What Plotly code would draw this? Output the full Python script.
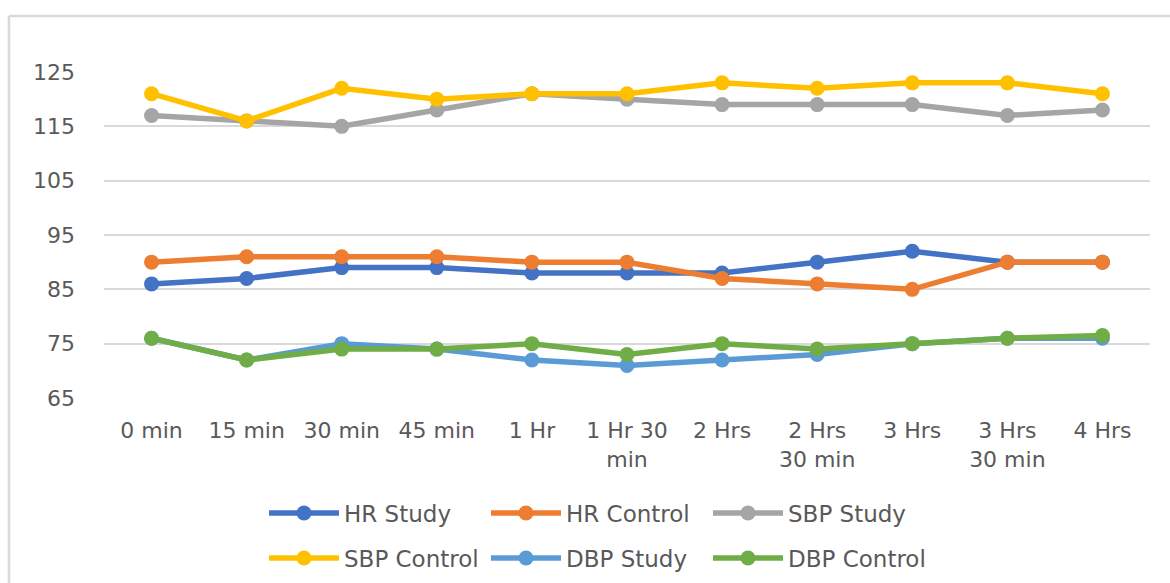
import plotly.graph_objects as go

# Time points (x-axis categories)
time_points = ["0 min", "15 min", "30 min", "45 min", "1 Hr", "1 Hr 30<br>min",
               "2 Hrs", "2 Hrs<br>30 min", "3 Hrs", "3 Hrs<br>30 min", "4 Hrs"]

# Series values
hr_study = [86, 87, 89, 89, 88, 88, 88, 90, 92, 90, 90]
hr_control = [90, 91, 91, 91, 90, 90, 87, 86, 85, 90, 90]
sbp_study = [117, 116, 115, 118, 121, 120, 119, 119, 119, 117, 118]
sbp_control = [121, 116, 122, 120, 121, 121, 123, 122, 123, 123, 121]
dbp_study = [76, 72, 75, 74, 72, 71, 72, 73, 75, 76, 76]
dbp_control = [76, 72, 74, 74, 75, 73, 75, 74, 75, 76, 76.5]

y_ticks = [65, 75, 85, 95, 105, 115, 125]

W, H = 1170, 583
ML, MR, MT, MB = 104, 20, 72, 185
PW, PH = W - ML - MR, H - MT - MB

font_family = "DejaVu Sans, sans-serif"
text_color = "#595959"

series = [
    ("HR Study", hr_study, "#4472C4", "legend"),
    ("HR Control", hr_control, "#ED7D31", "legend"),
    ("SBP Study", sbp_study, "#A5A5A5", "legend"),
    ("SBP Control", sbp_control, "#FFC000", "legend2"),
    ("DBP Study", dbp_study, "#5B9BD5", "legend2"),
    ("DBP Control", dbp_control, "#70AD47", "legend2"),
]

fig = go.Figure()
for name, vals, color, leg in series:
    fig.add_trace(go.Scatter(
        x=time_points, y=vals, name=name, mode="lines+markers",
        line=dict(color=color, width=5.5),
        marker=dict(color=color, size=15),
        legend=leg,
    ))


def px_to_paper_x(px):
    return (px - ML) / PW


def px_to_paper_y(py):
    return (H - MB - py) / PH


legend_style = dict(
    orientation="h",
    xanchor="left", yanchor="middle",
    x=px_to_paper_x(264),
    font=dict(family=font_family, size=23, color=text_color),
    itemwidth=70,
    entrywidth=137, entrywidthmode="pixels",
    bgcolor="rgba(0,0,0,0)",
    itemclick=False,
)

fig.update_layout(
    width=W, height=H,
    margin=dict(l=ML, r=MR, t=MT, b=MB, autoexpand=False),
    paper_bgcolor="white", plot_bgcolor="white",
    font=dict(family=font_family, size=22, color=text_color),
    showlegend=True,
    legend=dict(legend_style, y=px_to_paper_y(513)),
    legend2=dict(legend_style, y=px_to_paper_y(558)),
    xaxis=dict(
        type="category", range=[-0.5, len(time_points) - 0.5],
        showgrid=False, zeroline=False,
        showline=False, ticks="", ticklabelstandoff=17,
        tickfont=dict(family=font_family, size=22, color=text_color),
    ),
    yaxis=dict(
        range=[65, 125], tickvals=y_ticks, showgrid=True,
        gridcolor="#D9D9D9", gridwidth=1.5, zeroline=False,
        showline=False, ticks="", ticklabelstandoff=28,
        tickfont=dict(family=font_family, size=22, color=text_color),
    ),
    shapes=[
        # chart frame (top and left edges visible)
        dict(type="line", xref="paper", yref="paper",
             x0=px_to_paper_x(9), x1=px_to_paper_x(1180),
             y0=px_to_paper_y(16), y1=px_to_paper_y(16),
             line=dict(color="#D9D9D9", width=2.5)),
        dict(type="line", xref="paper", yref="paper",
             x0=px_to_paper_x(9), x1=px_to_paper_x(9),
             y0=px_to_paper_y(16), y1=px_to_paper_y(600),
             line=dict(color="#D9D9D9", width=2.5)),
    ],
)

fig.write_html("out.html")
